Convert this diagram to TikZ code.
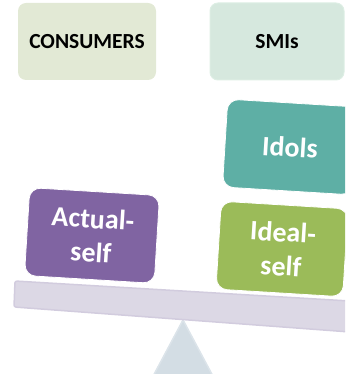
\documentclass[tikz,border=0pt]{standalone}
\usepackage{fontspec}
\setmainfont{Carlito}
\definecolor{consfill}{HTML}{E2E9D5}
\definecolor{smifill}{HTML}{D6E8DE}
\definecolor{smiedge}{HTML}{DDEEE4}
\definecolor{idolfill}{HTML}{5EAFA5}
\definecolor{idealfill}{HTML}{9BBB59}
\definecolor{actualfill}{HTML}{8064A2}
\definecolor{beamfill}{HTML}{DCD8E5}
\definecolor{beamedge}{HTML}{D2CCDE}
\definecolor{pivotfill}{HTML}{D3DDE4}
\definecolor{pivotedge}{HTML}{DCE4EA}
\begin{document}
\begin{tikzpicture}[x=1pt,y=-1pt,
  header/.style={rounded corners=8pt, inner sep=0pt, minimum width=138pt,
    minimum height=77pt, font=\fontsize{21.5}{25}\selectfont\bfseries, text=black},
  weight/.style={rounded corners=11pt, inner sep=0pt, minimum width=130pt,
    minimum height=88pt, rotate=-3.5, draw=white, line width=0.8pt,
    align=center, text=white, font=\fontsize{28}{34}\selectfont\bfseries}]
\useasboundingbox (0,0) rectangle (345,374);
\clip (0,0) rectangle (345,374);

% fulcrum
\path[fill=pivotfill, draw=pivotedge, line width=1.5pt]
  (183,320) -- (215,380) -- (151,380) -- cycle;
\coordinate (pivot) at (183,320);

% beam of the balance
\path[fill=beamfill, draw=beamedge, line width=1.5pt, rounded corners=2pt]
  (15,281) -- (350,301) -- (350,332) -- (14,307) -- cycle;
\coordinate (beam) at (180,305);

% header labels
\node[header, fill=consfill] (consumers) at (87,41.5) {CONSUMERS};
\node[header, fill=smifill, draw=smiedge, line width=1pt, minimum width=134pt] (smis) at (277,41.5) {SMIs};

% weights on the beam
\node[weight, fill=actualfill] (actual) at (92,235.5) {Actual-\\self};
\node[weight, fill=idealfill, minimum width=127pt] (ideal) at (282,249) {Ideal-\\self};
\node[weight, fill=idolfill] (idols) at (290,147) {Idols};
\end{tikzpicture}
\end{document}
